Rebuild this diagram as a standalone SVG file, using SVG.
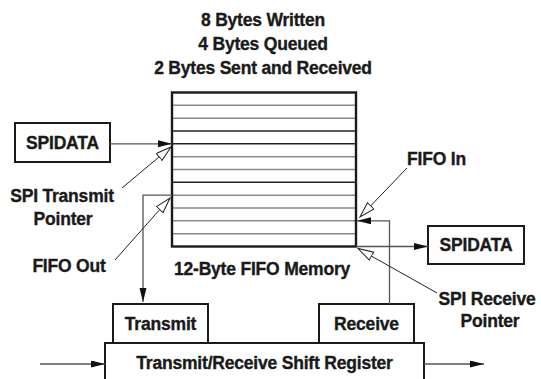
<svg xmlns="http://www.w3.org/2000/svg" width="541" height="379" viewBox="0 0 541 379">
<style>
text{font-family:"Liberation Sans",Arial,sans-serif;font-weight:bold;font-size:17.5px;fill:#1a1a1a;stroke:#1a1a1a;stroke-width:0.35;letter-spacing:-0.2px}
.box{fill:#fff;stroke:#1a1a1a;stroke-width:2}
.c{fill:none;stroke:#555;stroke-width:1.3}
.p{fill:none;stroke:#222;stroke-width:1}
.g{stroke:#8a8a8a;stroke-width:1.6}
.k{stroke:#222;stroke-width:1.4}
</style>
<defs>
<marker id="fa" markerUnits="userSpaceOnUse" markerWidth="15" markerHeight="8" refX="14" refY="3.5" orient="auto"><path d="M0,0 L14,3.5 L0,7 z" fill="#111"/></marker>
<marker id="ha" markerUnits="userSpaceOnUse" markerWidth="17" markerHeight="11" refX="16" refY="5" orient="auto"><path d="M0.5,0.5 L16,5 L0.5,9.5 z" fill="#fff" stroke="#222" stroke-width="1"/></marker>
</defs>
<g id="title">
<text x="263" y="26" text-anchor="middle">8 Bytes Written</text>
<text x="263" y="50" text-anchor="middle">4 Bytes Queued</text>
<text x="263" y="74" text-anchor="middle">2 Bytes Sent and Received</text>
</g>
<g id="fifo">
<rect x="172" y="92.5" width="184" height="154" fill="#fff" stroke="none"/>
<line class="g" x1="172" x2="356" y1="105.3" y2="105.3"/>
<line class="g" x1="172" x2="356" y1="118.2" y2="118.2"/>
<line class="k" x1="172" x2="356" y1="131" y2="131"/>
<line class="k" x1="172" x2="356" y1="143.8" y2="143.8"/>
<line class="g" x1="172" x2="356" y1="156.7" y2="156.7"/>
<line class="g" x1="172" x2="356" y1="169.5" y2="169.5"/>
<line class="k" x1="172" x2="356" y1="182.3" y2="182.3"/>
<line class="g" x1="172" x2="356" y1="195.2" y2="195.2"/>
<line class="g" x1="172" x2="356" y1="208" y2="208"/>
<line class="g" x1="172" x2="356" y1="220.8" y2="220.8"/>
<line class="g" x1="172" x2="356" y1="233.7" y2="233.7"/>
<rect x="172" y="92.5" width="184" height="154" fill="none" stroke="#1a1a1a" stroke-width="2.4"/>
<text x="262" y="275" text-anchor="middle">12-Byte FIFO Memory</text>
</g>
<g id="spidata-in">
<rect class="box" x="15" y="123" width="95" height="39"/>
<text x="62.5" y="148.5" text-anchor="middle">SPIDATA</text>
</g>
<g id="spidata-out">
<rect class="box" x="428" y="226" width="96" height="38"/>
<text x="476" y="251" text-anchor="middle">SPIDATA</text>
</g>
<g id="transmit">
<rect class="box" x="113" y="304" width="95" height="39"/>
<text x="160.5" y="329.5" text-anchor="middle">Transmit</text>
</g>
<g id="receive">
<rect class="box" x="319" y="304" width="95" height="39"/>
<text x="366.5" y="329.5" text-anchor="middle">Receive</text>
</g>
<g id="shift-register">
<rect class="box" x="105" y="343" width="319" height="40"/>
<text x="264.5" y="369" text-anchor="middle">Transmit/Receive Shift Register</text>
</g>
<g id="labels">
<text x="62" y="202" text-anchor="middle">SPI Transmit</text>
<text x="63" y="225" text-anchor="middle">Pointer</text>
<text x="69" y="272" text-anchor="middle">FIFO Out</text>
<text x="407" y="165">FIFO In</text>
<text x="487" y="305" text-anchor="middle">SPI Receive</text>
<text x="490" y="327" text-anchor="middle">Pointer</text>
</g>
<g id="connectors">
<line class="c" x1="110" y1="143.8" x2="172" y2="143.8" marker-end="url(#fa)"/>
<polyline class="c" points="172,195.2 143,195.2 143,302" marker-end="url(#fa)"/>
<polyline class="c" points="389.5,304 389.5,220.8 357,220.8" marker-end="url(#fa)"/>
<line class="c" x1="356" y1="246.5" x2="428" y2="246.5" marker-end="url(#fa)"/>
<line class="c" x1="40" y1="364" x2="105" y2="364" marker-end="url(#fa)"/>
<line class="c" x1="424" y1="364" x2="484" y2="364" marker-end="url(#fa)"/>
<line class="p" x1="122" y1="188" x2="171" y2="147" marker-end="url(#ha)"/>
<line class="p" x1="115" y1="260" x2="170" y2="198" marker-end="url(#ha)"/>
<line class="p" x1="407" y1="168" x2="360" y2="217" marker-end="url(#ha)"/>
<line class="p" x1="437" y1="293" x2="358" y2="248.5" marker-end="url(#ha)"/>
</g>
</svg>
